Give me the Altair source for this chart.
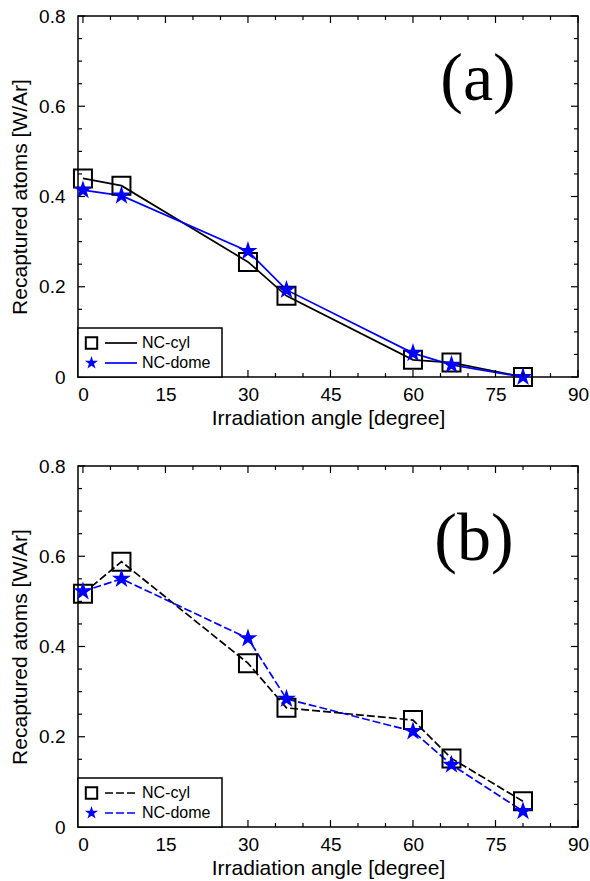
import altair as alt
import pandas as pd

# Irradiation angles (degrees) shared by both panels
angles = [0, 7, 30, 37, 60, 67, 80]
series_names = ["NC-cyl", "NC-dome"]

# Panel (a): recaptured atoms per incident Ar
cyl_a = [0.44, 0.424, 0.255, 0.18, 0.038, 0.032, 0.0]
dome_a = [0.414, 0.402, 0.279, 0.193, 0.053, 0.027, 0.0]

# Panel (b)
cyl_b = [0.517, 0.588, 0.363, 0.264, 0.237, 0.152, 0.057]
dome_b = [0.522, 0.55, 0.418, 0.284, 0.212, 0.138, 0.035]

panel_tags = ["(a)", "(b)"]

# Axis tick positions
x_major = [0, 15, 30, 45, 60, 75, 90]
x_minor = [5, 10, 20, 25, 35, 40, 50, 55, 65, 70, 80, 85]
y_major = [0, 0.2, 0.4, 0.6, 0.8]
y_minor = [0.05, 0.1, 0.15, 0.25, 0.3, 0.35, 0.45, 0.5, 0.55, 0.65, 0.7, 0.75]

W, H = 500, 361
FONT = "Liberation Sans"
STAR = ("M0,-1L0.224,-0.309L0.951,-0.309L0.363,0.118L0.588,0.809"
        "L0,0.382L-0.588,0.809L-0.363,0.118L-0.951,-0.309L-0.224,-0.309Z")


def make_panel(cyl, dome, tag, dash, tag_x, tag_y):
    df = pd.DataFrame({
        "angle": angles * 2,
        "value": cyl + dome,
        "series": [s for s in series_names for _ in angles],
    })
    xs = alt.Scale(domain=[-0.9, 90], nice=False, zero=False)
    ys = alt.Scale(domain=[0, 0.8], nice=False, zero=False)
    x_enc = alt.X("angle:Q", scale=xs, axis=alt.Axis(
        values=x_major, format="d", title="Irradiation angle [degree]",
        labelPadding=8, titlePadding=3, labelFlush=False, labelOverlap=False))
    y_enc = alt.Y("value:Q", scale=ys, axis=alt.Axis(
        values=y_major, format="~g", title="Recaptured atoms [W/Ar]",
        labelPadding=13, titlePadding=8, labelFlush=False, labelOverlap=False))
    color = alt.Color("series:N", scale=alt.Scale(domain=series_names, range=["black", "blue"]),
                      legend=None)

    line_style = {"strokeWidth": 1.7}
    if dash:
        line_style["strokeDash"] = dash

    lines = alt.Chart(df).mark_line(**line_style).encode(x=x_enc, y=y_enc, color=color)
    squares = alt.Chart(df).transform_filter(alt.datum.series == series_names[0]).mark_point(
        shape="square", size=324, filled=False, strokeWidth=2, color="black", opacity=1
    ).encode(x="angle:Q", y="value:Q")
    stars = alt.Chart(df).transform_filter(alt.datum.series == series_names[1]).mark_point(
        shape=STAR, size=400, filled=True, color="blue", opacity=1, strokeWidth=0
    ).encode(x="angle:Q", y="value:Q")

    # inward ticks on all four sides
    tick_layers = []
    for vals, ln in ((x_major, 7), (x_minor, 4)):
        d = pd.DataFrame({"angle": vals})
        tick_layers.append(alt.Chart(d).mark_rule(color="black", strokeWidth=1.2).encode(
            x="angle:Q", y=alt.value(H), y2=alt.value(H - ln)))
        tick_layers.append(alt.Chart(d).mark_rule(color="black", strokeWidth=1.2).encode(
            x="angle:Q", y=alt.value(0), y2=alt.value(ln)))
    for vals, ln in ((y_major, 7), (y_minor, 4)):
        d = pd.DataFrame({"value": vals})
        tick_layers.append(alt.Chart(d).mark_rule(color="black", strokeWidth=1.2).encode(
            y="value:Q", x=alt.value(0), x2=alt.value(ln)))
        tick_layers.append(alt.Chart(d).mark_rule(color="black", strokeWidth=1.2).encode(
            y="value:Q", x=alt.value(W), x2=alt.value(W - ln)))

    # legend box in the lower-left corner
    one = alt.Data(values=[{}])
    legend = [alt.Chart(one).mark_rect(fill="white", stroke="black", strokeWidth=1.5).encode(
        x=alt.value(0), x2=alt.value(144), y=alt.value(H - 49), y2=alt.value(H))]
    colors = ["black", "blue"]
    for i, name in enumerate(series_names):
        yy = H - 34 + 20 * i
        if i == 0:
            sym = alt.Chart(one).mark_point(shape="square", size=130, filled=False,
                                            strokeWidth=2, color="black", opacity=1)
        else:
            sym = alt.Chart(one).mark_point(shape=STAR, size=190, filled=True,
                                            color="blue", opacity=1, strokeWidth=0)
        legend.append(sym.encode(x=alt.value(13.5), y=alt.value(yy)))
        rule_style = {"color": colors[i], "strokeWidth": 1.7}
        if dash:
            rule_style["strokeDash"] = dash
        legend.append(alt.Chart(one).mark_rule(**rule_style).encode(
            x=alt.value(27), x2=alt.value(59), y=alt.value(yy)))
        legend.append(alt.Chart(one).mark_text(
            align="left", baseline="middle", font=FONT, fontSize=16, color="black"
        ).encode(x=alt.value(64), y=alt.value(yy), text=alt.value(name)))

    tag_mark = alt.Chart(one).mark_text(
        font="Liberation Serif", fontSize=68, align="center", baseline="alphabetic", color="black"
    ).encode(x=alt.value(tag_x), y=alt.value(tag_y), text=alt.value(tag))

    return alt.layer(lines, squares, stars, *tick_layers, *legend, tag_mark).properties(
        width=W, height=H)


panel_a = make_panel(cyl_a, dome_a, panel_tags[0], None, 400, 84)
panel_b = make_panel(cyl_b, dome_b, panel_tags[1], [8, 3], 396, 94)

chart = alt.vconcat(panel_a, panel_b, spacing=27).properties(
    padding={"left": 8, "top": 6, "right": 0, "bottom": 0}
).configure_view(
    stroke="black", strokeWidth=1.5
).configure_axis(
    labelFont=FONT, labelFontSize=19, labelColor="black",
    titleFont=FONT, titleFontSize=21, titleFontWeight="normal", titleColor="black",
    domain=False, ticks=False, tickSize=0, grid=False
)

chart.save("out.html", embed_options={"renderer": "svg", "actions": False})
